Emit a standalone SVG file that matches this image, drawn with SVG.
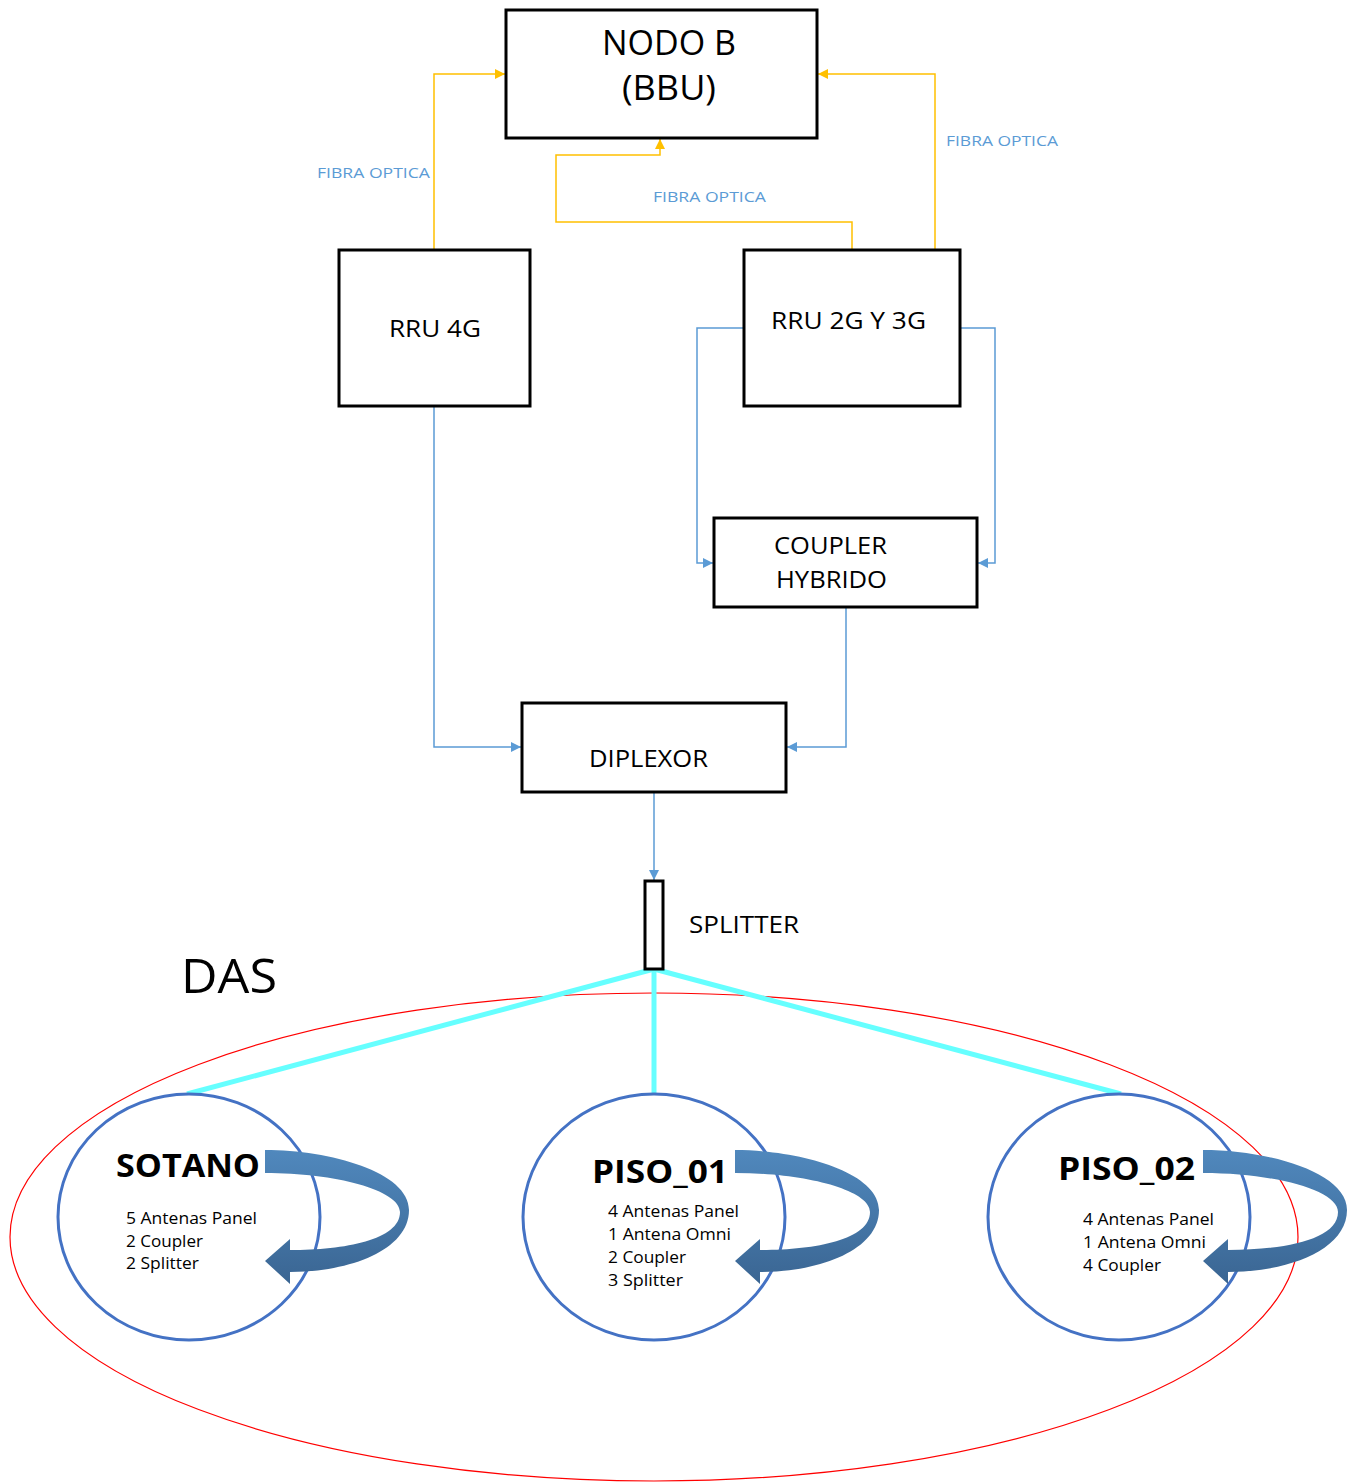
<svg xmlns="http://www.w3.org/2000/svg" width="1358" height="1482" viewBox="0 0 1358 1482">
  <style>
    .box { fill: #ffffff; stroke: #000000; stroke-width: 3; }
    .lbl { font-family: "Open Sans", "Liberation Sans", sans-serif; fill: #000000; }
    .fibra { font-family: "Open Sans", "Liberation Sans", sans-serif; font-size: 15px; fill: #5b9bd5; }
    .orange { fill: none; stroke: #ffc000; stroke-width: 1.5; marker-end: url(#arrOrange); }
    .blue { fill: none; stroke: #5b9bd5; stroke-width: 1.5; marker-end: url(#arrBlue); }
    .cyan { stroke: #66ffff; stroke-width: 5; stroke-linecap: butt; }
    .floor { fill: #ffffff; stroke: #4472c4; stroke-width: 3; }
    .title { font-family: "Open Sans", "Liberation Sans", sans-serif; font-weight: bold; font-size: 33px; fill: #000000; }
    .item { font-family: "Open Sans", "Liberation Sans", sans-serif; font-size: 16.5px; fill: #000000; }
  </style>
  <defs>
    <marker id="arrOrange" viewBox="0 0 10 10" refX="10" refY="5" markerWidth="10" markerHeight="10" markerUnits="userSpaceOnUse" orient="auto">
      <path d="M0,0 L10,5 L0,10 Z" fill="#ffc000"/>
    </marker>
    <marker id="arrBlue" viewBox="0 0 10 10" refX="10" refY="5" markerWidth="10" markerHeight="10" markerUnits="userSpaceOnUse" orient="auto">
      <path d="M0,0 L10,5 L0,10 Z" fill="#5b9bd5"/>
    </marker>
    <linearGradient id="bandGrad" x1="0" y1="0" x2="0" y2="1">
      <stop offset="0" stop-color="#5088bd"/>
      <stop offset="0.5" stop-color="#4577a8"/>
      <stop offset="1" stop-color="#3a6592"/>
    </linearGradient>
    <!-- curved return arrow used on each floor -->
    <path id="loopArrow" d="M265,1150 C330,1150 409,1172 409,1210 C409,1250 350,1272 290,1272 L290,1284 L265,1261 L290,1239 L290,1250 C345,1250 400,1240 400,1212 C400,1190 335,1173 265,1173 Z" fill="url(#bandGrad)"/>
  </defs>

  <rect width="1358" height="1482" fill="#ffffff"/>

  <!-- DAS zone -->
  <g id="das-zone">
    <ellipse cx="654" cy="1237" rx="644" ry="244" fill="none" stroke="#ff0000" stroke-width="1.2"/>
    <text class="lbl" x="181" y="993" font-size="47" textLength="96" lengthAdjust="spacingAndGlyphs">DAS</text>
  </g>

  <!-- connectors -->
  <g id="connectors">
    <!-- fibre links to the BBU -->
    <polyline class="orange" points="434,250 434,74 505,74"/>
    <polyline class="orange" points="935,250 935,74 818,74"/>
    <polyline class="orange" points="852,250 852,222 556,222 556,155 660,155 660,139"/>
    <!-- RF links -->
    <polyline class="blue" points="434,406 434,747 521,747"/>
    <polyline class="blue" points="744,328 697,328 697,563 713,563"/>
    <polyline class="blue" points="960,328 995,328 995,563 978,563"/>
    <polyline class="blue" points="846,607 846,747 787,747"/>
    <polyline class="blue" points="654,792 654,880"/>
    <!-- splitter outputs -->
    <line class="cyan" x1="654" y1="969" x2="187" y2="1094"/>
    <line class="cyan" x1="654" y1="969" x2="654" y2="1095"/>
    <line class="cyan" x1="654" y1="969" x2="1121" y2="1094"/>
  </g>

  <g id="nodo-b">
    <rect class="box" x="506" y="10" width="311" height="128"/>
    <text class="lbl" x="669" y="55" font-size="34" text-anchor="middle" textLength="134" lengthAdjust="spacingAndGlyphs">NODO B</text>
    <text class="lbl" x="669" y="100" font-size="34" text-anchor="middle" textLength="94" lengthAdjust="spacingAndGlyphs">(BBU)</text>
  </g>

  <g id="fibra-labels">
    <text class="fibra" x="317" y="178" textLength="113" lengthAdjust="spacingAndGlyphs">FIBRA OPTICA</text>
    <text class="fibra" x="653" y="202" textLength="113" lengthAdjust="spacingAndGlyphs">FIBRA OPTICA</text>
    <text class="fibra" x="946" y="146" textLength="112" lengthAdjust="spacingAndGlyphs">FIBRA OPTICA</text>
  </g>

  <g id="rru-4g">
    <rect class="box" x="339" y="250" width="191" height="156"/>
    <text class="lbl" x="389" y="337" font-size="24" textLength="92" lengthAdjust="spacingAndGlyphs">RRU 4G</text>
  </g>

  <g id="rru-2g-3g">
    <rect class="box" x="744" y="250" width="216" height="156"/>
    <text class="lbl" x="771" y="329" font-size="24" textLength="155" lengthAdjust="spacingAndGlyphs">RRU 2G Y 3G</text>
  </g>

  <g id="coupler-hybrido">
    <rect class="box" x="714" y="518" width="263" height="89"/>
    <text class="lbl" x="774" y="554" font-size="24" textLength="113" lengthAdjust="spacingAndGlyphs">COUPLER</text>
    <text class="lbl" x="776" y="588" font-size="24" textLength="111" lengthAdjust="spacingAndGlyphs">HYBRIDO</text>
  </g>

  <g id="diplexor">
    <rect class="box" x="522" y="703" width="264" height="89"/>
    <text class="lbl" x="589" y="767" font-size="24" textLength="119" lengthAdjust="spacingAndGlyphs">DIPLEXOR</text>
  </g>

  <g id="splitter">
    <rect class="box" x="645" y="881" width="18" height="88"/>
    <text class="lbl" x="689" y="933" font-size="24" textLength="110" lengthAdjust="spacingAndGlyphs">SPLITTER</text>
  </g>

  <g id="sotano">
    <ellipse class="floor" cx="189" cy="1217" rx="131" ry="123"/>
    <text class="title" x="116" y="1177" textLength="144" lengthAdjust="spacingAndGlyphs">SOTANO</text>
    <text class="item" x="126" y="1224" textLength="131" lengthAdjust="spacingAndGlyphs">5 Antenas Panel</text>
    <text class="item" x="126" y="1247" textLength="77" lengthAdjust="spacingAndGlyphs">2 Coupler</text>
    <text class="item" x="126" y="1269" textLength="73" lengthAdjust="spacingAndGlyphs">2 Splitter</text>
    <use href="#loopArrow"/>
  </g>

  <g id="piso-01">
    <ellipse class="floor" cx="654" cy="1217" rx="131" ry="123"/>
    <text class="title" x="592" y="1183" textLength="136" lengthAdjust="spacingAndGlyphs">PISO_01</text>
    <text class="item" x="608" y="1217" textLength="131" lengthAdjust="spacingAndGlyphs">4 Antenas Panel</text>
    <text class="item" x="608" y="1240" textLength="123" lengthAdjust="spacingAndGlyphs">1 Antena Omni</text>
    <text class="item" x="608" y="1263" textLength="78" lengthAdjust="spacingAndGlyphs">2 Coupler</text>
    <text class="item" x="608" y="1286" textLength="75" lengthAdjust="spacingAndGlyphs">3 Splitter</text>
    <use href="#loopArrow" transform="translate(470,0)"/>
  </g>

  <g id="piso-02">
    <ellipse class="floor" cx="1119" cy="1217" rx="131" ry="123"/>
    <text class="title" x="1058" y="1180" textLength="137" lengthAdjust="spacingAndGlyphs">PISO_02</text>
    <text class="item" x="1083" y="1225" textLength="131" lengthAdjust="spacingAndGlyphs">4 Antenas Panel</text>
    <text class="item" x="1083" y="1248" textLength="123" lengthAdjust="spacingAndGlyphs">1 Antena Omni</text>
    <text class="item" x="1083" y="1271" textLength="78" lengthAdjust="spacingAndGlyphs">4 Coupler</text>
    <use href="#loopArrow" transform="translate(938,0)"/>
  </g>
</svg>
